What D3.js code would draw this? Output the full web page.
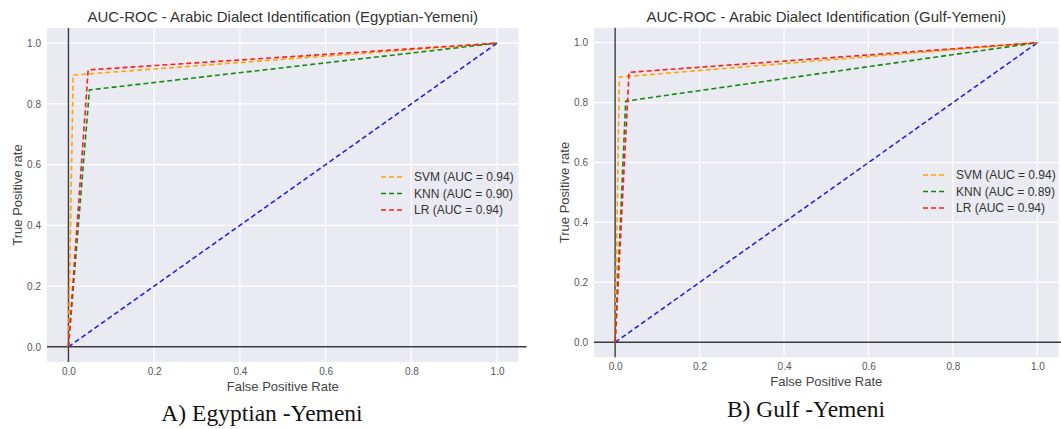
<!DOCTYPE html>
<html>
<head>
<meta charset="utf-8">
<script src="https://cdn.jsdelivr.net/npm/d3@7"></script>
<style>
  body { margin: 0; background: #fff; }
  svg text { font-family: "Liberation Sans", Arial, sans-serif; }
</style>
</head>
<body>
<svg id="chart" width="1061" height="429"></svg>
<script>
// ROC points (fpr, tpr)
const modelNames = ["SVM", "KNN", "LR"];
const modelColors = ["#ffa500", "#138a13", "#ff1a1a"];

const egyptFpr = [[0, 0.011, 1], [0, 0.049, 1], [0, 0.046, 1]];
const egyptTpr = [[0, 0.895, 1], [0, 0.846, 1], [0, 0.912, 1]];
const egyptAuc = ["0.94", "0.90", "0.94"];

const gulfFpr = [[0, 0.010, 1], [0, 0.025, 1], [0, 0.033, 1]];
const gulfTpr = [[0, 0.885, 1], [0, 0.805, 1], [0, 0.901, 1]];
const gulfAuc = ["0.94", "0.89", "0.94"];

const chanceLine = [0, 1];
const tickValues = [0, 0.2, 0.4, 0.6, 0.8, 1.0];

const svg = d3.select("#chart");

function drawPanel(p) {
    // Scales
    const x = d3.scaleLinear().domain([-0.05, 1.05]).range([p.left, p.right]);
    const y = d3.scaleLinear().domain([-0.05, 1.05]).range([p.bottom, p.top]);

    const g = svg.append("g");

    // plot background
    g.append("rect")
        .attr("x", p.left).attr("y", p.top)
        .attr("width", p.right - p.left)
        .attr("height", p.bottom - p.top)
        .attr("fill", "#eaeaf2");

    // white grid
    g.selectAll(".gx").data(tickValues).enter().append("line")
        .attr("x1", d => x(d)).attr("x2", d => x(d))
        .attr("y1", p.top).attr("y2", p.bottom)
        .attr("stroke", "#fff").attr("stroke-width", 1.2);
    g.selectAll(".gy").data(tickValues).enter().append("line")
        .attr("y1", d => y(d)).attr("y2", d => y(d))
        .attr("x1", p.left).attr("x2", p.right)
        .attr("stroke", "#fff").attr("stroke-width", 1.2);

    // Axes (no domain, no tick marks)
    const xAxis = g.append("g")
        .attr("transform", `translate(0,${p.bottom})`)
        .call(d3.axisBottom(x).tickValues(tickValues).tickFormat(d3.format(".1f")).tickSize(0).tickPadding(6));
    xAxis.select(".domain").remove();
    xAxis.selectAll("text").attr("font-size", 10).attr("fill", "#555")
        .style("font-family", "Liberation Sans, Arial, sans-serif");

    const yAxis = g.append("g")
        .attr("transform", `translate(${p.left},0)`)
        .call(d3.axisLeft(y).tickValues(tickValues).tickFormat(d3.format(".1f")).tickSize(0).tickPadding(6));
    yAxis.select(".domain").remove();
    yAxis.selectAll("text").attr("font-size", 10).attr("fill", "#555")
        .style("font-family", "Liberation Sans, Arial, sans-serif");

    // zero lines
    g.append("line")
        .attr("x1", p.left).attr("x2", p.right + p.extend)
        .attr("y1", y(0)).attr("y2", y(0))
        .attr("stroke", "#3a3a3a").attr("stroke-width", 1.4);
    g.append("line")
        .attr("x1", x(0)).attr("x2", x(0))
        .attr("y1", p.top).attr("y2", p.bottom)
        .attr("stroke", "#3a3a3a").attr("stroke-width", 1.4);

    const line = d3.line().x(d => x(d[0])).y(d => y(d[1]));

    // chance diagonal
    g.append("path")
        .attr("d", line(chanceLine.map((v, i) => [v, chanceLine[i]])))
        .attr("fill", "none").attr("stroke", "#1a1ae6")
        .attr("stroke-width", 1.5).attr("stroke-dasharray", "5,3");

    // model curves
    modelNames.forEach((name, i) => {
        const pts = p.fpr[i].map((f, j) => [f, p.tpr[i][j]]);
        g.append("path")
            .attr("d", line(pts))
            .attr("fill", "none").attr("stroke", modelColors[i])
            .attr("stroke-width", 1.6).attr("stroke-dasharray", "5,3");
    });

    // legend
    modelNames.forEach((name, i) => {
        const ly = p.legendY + i * 16.5;
        g.append("line")
            .attr("x1", p.legendX).attr("x2", p.legendX + 23)
            .attr("y1", ly).attr("y2", ly)
            .attr("stroke", modelColors[i]).attr("stroke-width", 1.6)
            .attr("stroke-dasharray", "5,3");
        g.append("text")
            .attr("x", p.legendX + 33).attr("y", ly)
            .attr("dy", "0.35em")
            .attr("font-size", 12).attr("fill", "#333")
            .text(`${name} (AUC = ${p.auc[i]})`);
    });

    // title
    g.append("text")
        .attr("x", (p.left + p.right) / 2).attr("y", 22)
        .attr("text-anchor", "middle")
        .attr("font-size", 15).attr("fill", "#333")
        .text(p.title);

    // axis labels
    g.append("text")
        .attr("x", (p.left + p.right) / 2).attr("y", p.bottom + 28.5)
        .attr("text-anchor", "middle")
        .attr("font-size", 13).attr("fill", "#444")
        .text("False Positive Rate");
    g.append("text")
        .attr("transform", `translate(${p.left - 25},${(p.top + p.bottom) / 2}) rotate(-90)`)
        .attr("text-anchor", "middle")
        .attr("font-size", 13).attr("fill", "#444")
        .text("True Positive rate");

    // caption
    g.append("text")
        .attr("x", p.captionX).attr("y", p.captionY)
        .attr("text-anchor", "middle")
        .attr("font-size", 23.5).attr("fill", "#111")
        .style("font-family", "Liberation Serif, Times New Roman, serif")
        .text(p.caption);
}

drawPanel({
    left: 47, right: 518.5, top: 28, bottom: 362, extend: 8,
    fpr: egyptFpr, tpr: egyptTpr, auc: egyptAuc,
    legendX: 381, legendY: 177,
    title: "AUC-ROC - Arabic Dialect Identification (Egyptian-Yemeni)",
    caption: "A) Egyptian -Yemeni", captionX: 262, captionY: 421
});

drawPanel({
    left: 594, right: 1058.5, top: 27.7, bottom: 357.3, extend: 3,
    fpr: gulfFpr, tpr: gulfTpr, auc: gulfAuc,
    legendX: 923, legendY: 175,
    title: "AUC-ROC - Arabic Dialect Identification (Gulf-Yemeni)",
    caption: "B) Gulf -Yemeni", captionX: 806, captionY: 417
});
</script>
</body>
</html>
